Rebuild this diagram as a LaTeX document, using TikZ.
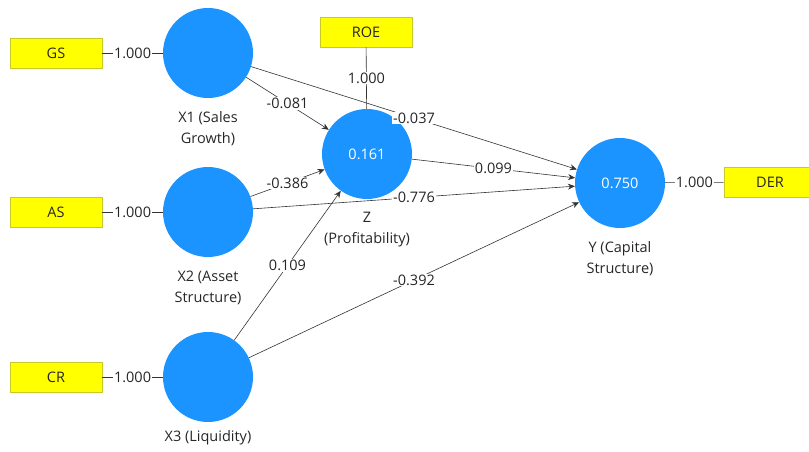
\documentclass[tikz,border=0pt]{standalone}
\usepackage{fontspec}
\setmainfont{Open Sans}
\usetikzlibrary{arrows.meta}
\definecolor{lvblue}{RGB}{28,148,255}
\definecolor{mvyellow}{RGB}{255,255,0}
\definecolor{mvedge}{RGB}{200,200,40}
\tikzset{
latent/.style={
  circle,
  fill=lvblue,
  minimum size=90pt,
  inner sep=0pt,
  text=white,
  font=\fontsize{14.5}{17}\selectfont
},
manifest/.style={
  rectangle,
  fill=mvyellow,
  draw=mvedge,
  line width=0.6pt,
  minimum width=92pt,
  minimum height=30pt,
  inner sep=0pt,
  text=black!85,
  font=\fontsize{14.5}{17}\selectfont
},
caption/.style={align=center,text=black!85,font=\fontsize{14.5}{21}\selectfont},
coef/.style={fill=white,inner sep=1pt,text=black!85,font=\fontsize{14.5}{17}\selectfont},
path/.style={draw=black!80,line width=0.6pt,-{Stealth[length=7pt,width=6pt]}},
load/.style={draw=black!80,line width=0.6pt}
}
\begin{document}
\begin{tikzpicture}[x=1pt,y=-1pt]
\useasboundingbox (0,0) rectangle (809,452);
% the constructs
\node[latent] (X1) at (208,53) {};
\node[latent] (X2) at (208,212) {};
\node[latent] (X3) at (208,377) {};
\node[latent] (Z) at (367,154) {0.161};
\node[latent] (Y) at (620,183) {0.750};
% the indicators
\node[manifest] (GS) at (56,53) {GS};
\node[manifest] (AS) at (56,212) {AS};
\node[manifest] (CR) at (56,377) {CR};
\node[manifest] (ROE) at (366,32) {ROE};
\node[manifest] (DER) at (770,182) {DER};
% the captions
\node[caption] (capX1) at (208,128.5) {X1 (Sales\\Growth)};
\node[caption] (capX2) at (208,287.5) {X2 (Asset\\Structure)};
\node[caption] (capX3) at (208,438) {X3 (Liquidity)};
\node[caption] (capZ) at (367,229.5) {Z\\(Profitability)};
\node[caption] (capY) at (620,258.5) {Y (Capital\\Structure)};
% the outer loadings
\foreach \a/\b in {GS/X1,AS/X2,CR/X3,ROE/Z,Y/DER}
{
  \draw[load] (\a) -- node[coef] {1.000} (\b);
}
% the path coefficients
\foreach \a/\b/\v in {X1/Z/-0.081,X1/Y/-0.037,X2/Z/-0.386,X2/Y/-0.776,Z/Y/0.099,X3/Z/0.109,X3/Y/-0.392}
{
  \draw[path] (\a) -- node[coef] {\v} (\b);
}
\end{tikzpicture}
\end{document}
